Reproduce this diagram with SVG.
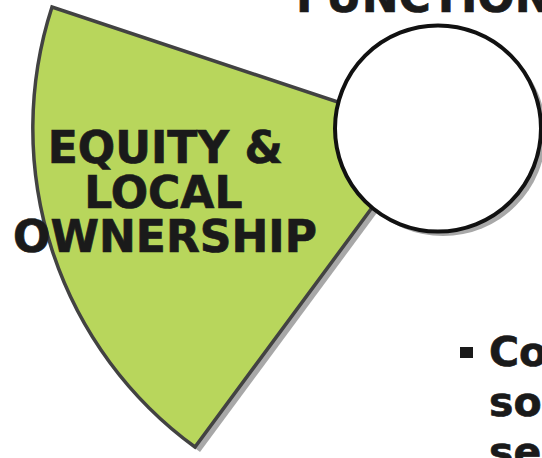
<svg xmlns="http://www.w3.org/2000/svg" width="542" height="458" viewBox="0 0 542 458">
  <style>
    .txt { font-family: "DejaVu Sans", Verdana, sans-serif; font-weight: bold; fill: #1a1a1a; stroke: #1a1a1a; stroke-width: 0.7; }
    .shadow { fill: #a8a8a8; stroke: none; }
    .wedge { fill: #b8d65c; stroke: #424242; stroke-width: 3.5; stroke-linejoin: miter; }
    .circ { fill: #ffffff; stroke: #111111; stroke-width: 4; }
  </style>
  <rect width="542" height="458" fill="#ffffff"/>
  <g id="function-label">
    <text class="txt" x="296" y="12" font-size="44">FUNCTION</text>
  </g>
  <g id="equity-wedge">
    <path class="shadow" transform="translate(5,5)" d="M 428,132 L 52,7 A 394 394 0 0 0 195,447 Z"/>
    <path class="wedge" d="M 428,132 L 52,7 A 394 394 0 0 0 195,447 Z"/>
    <text class="txt" font-size="44" text-anchor="middle">
      <tspan x="173" y="163">EQUITY &amp;</tspan>
      <tspan x="171" y="208">LOCAL</tspan>
      <tspan x="165" y="252">OWNERSHIP</tspan>
    </text>
  </g>
  <g id="center-circle">
    <circle class="shadow" cx="443" cy="133" r="103"/>
    <circle class="circ" cx="438" cy="128.5" r="103"/>
  </g>
  <g id="bullet-text">
    <rect x="460" y="347" width="13" height="11" fill="#1a1a1a"/>
    <text class="txt" font-size="41">
      <tspan x="489" y="366">Co</tspan>
      <tspan x="489" y="416">so</tspan>
      <tspan x="489" y="466">se</tspan>
    </text>
  </g>
  <g id="connectors"></g>
</svg>
